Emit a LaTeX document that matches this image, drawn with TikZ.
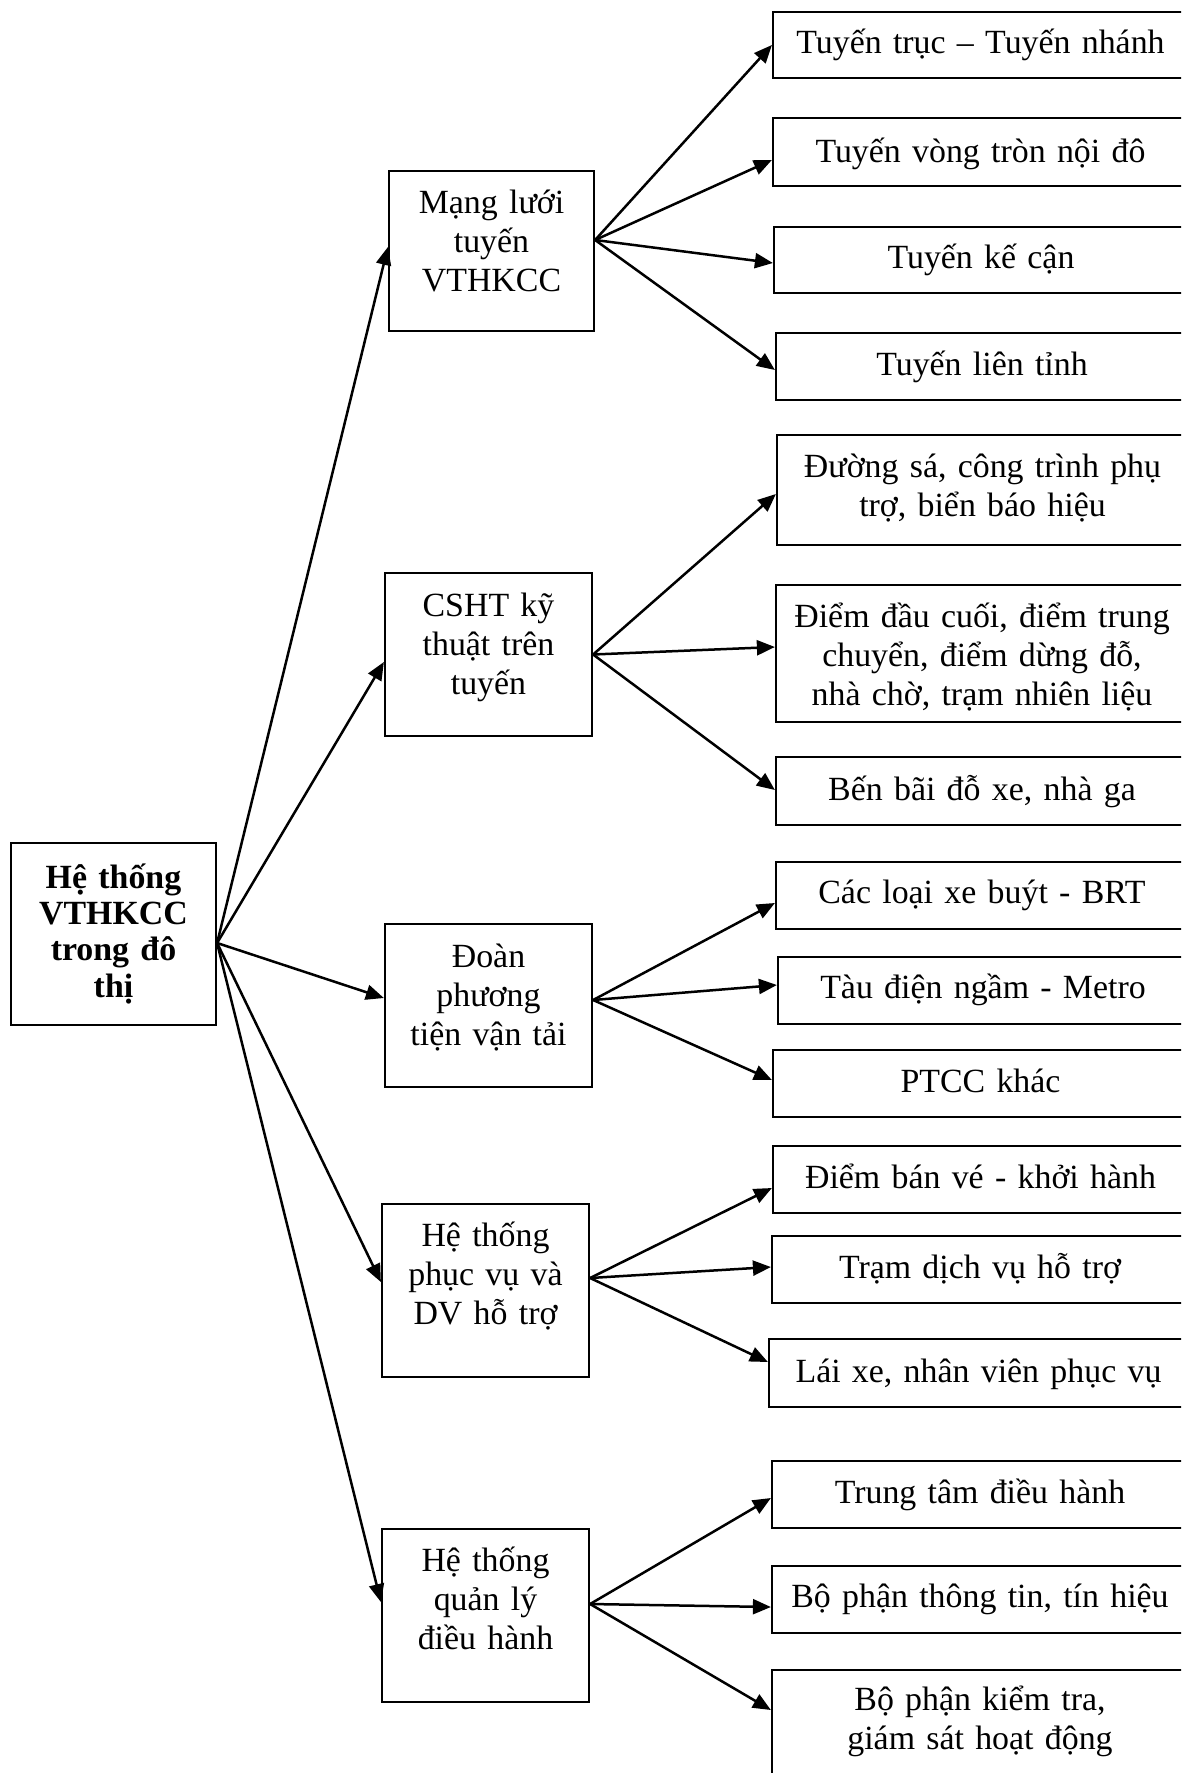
\documentclass[tikz,border=0pt]{standalone}
\usepackage{fontspec}
\setmainfont{Liberation Serif}
\usetikzlibrary{arrows.meta}

\tikzset{
  box/.style={draw=black, line width=2.2bp, rectangle, inner sep=0pt},
  lbl/.style={anchor=base, align=center, inner sep=0pt, font=\fontsize{34}{39.5}\selectfont},
  midlbl/.style={lbl, text width=200bp},
  sidelbl/.style={lbl, text width=410bp},
  rootlbl/.style={lbl, text width=200bp, font=\fontsize{34}{36.5}\selectfont\bfseries},
  link/.style={line width=2.5bp, -{Triangle[length=18bp, width=15bp]}},
}

\begin{document}
\begin{tikzpicture}[x=1bp, y=-1bp]
\useasboundingbox (0,0) rectangle (1181,1773);
\fill[white] (0,0) rectangle (1181,1773);
\clip (0,0) rectangle (1181,1773);

% root
\node[box, minimum width=205bp, minimum height=182bp] (root) at (113.5,934) {};
\node[rootlbl] (troot) at (113.5,888) {Hệ thống\\VTHKCC\\trong đô\\thị};

% middle column
\node[box, minimum width=205bp, minimum height=160bp] (m1) at (491.5,251) {};
\node[midlbl] (tm1) at (491.5,213) {Mạng lưới\\tuyến\\VTHKCC};
\node[box, minimum width=207bp, minimum height=163bp] (m2) at (488.5,654.5) {};
\node[midlbl] (tm2) at (488.5,616) {CSHT kỹ\\thuật trên\\tuyến};
\node[box, minimum width=207bp, minimum height=163bp] (m3) at (488.5,1005.5) {};
\node[midlbl] (tm3) at (488.5,967) {Đoàn\\phương\\tiện vận tải};
\node[box, minimum width=207bp, minimum height=173bp] (m4) at (485.5,1290.5) {};
\node[midlbl] (tm4) at (485.5,1246) {Hệ thống\\phục vụ và\\DV hỗ trợ};
\node[box, minimum width=207bp, minimum height=173bp] (m5) at (485.5,1615.5) {};
\node[midlbl] (tm5) at (485.5,1571) {Hệ thống\\quản lý\\điều hành};

% right column
\node[box, minimum width=415bp, minimum height=66bp] (b1) at (980.5,45) {};
\node[sidelbl] (tb1) at (980.5,53) {Tuyến trục – Tuyến nhánh};
\node[box, minimum width=415bp, minimum height=68bp] (b2) at (980.5,152) {};
\node[sidelbl] (tb2) at (980.5,162) {Tuyến vòng tròn nội đô};
\node[box, minimum width=414bp, minimum height=66bp] (b3) at (981,260) {};
\node[sidelbl] (tb3) at (981,268) {Tuyến kế cận};
\node[box, minimum width=412bp, minimum height=67bp] (b4) at (982,366.5) {};
\node[sidelbl] (tb4) at (982,375) {Tuyến liên tỉnh};

\node[box, minimum width=411bp, minimum height=110bp] (b5) at (982.5,490) {};
\node[sidelbl] (tb5) at (982.5,477) {Đường sá, công trình phụ\\trợ, biển báo hiệu};
\node[box, minimum width=412bp, minimum height=137bp] (b6) at (982,653.5) {};
\node[sidelbl] (tb6) at (982,627) {Điểm đầu cuối, điểm trung\\chuyển, điểm dừng đỗ,\\nhà chờ, trạm nhiên liệu};
\node[box, minimum width=412bp, minimum height=68bp] (b7) at (982,791) {};
\node[sidelbl] (tb7) at (982,800) {Bến bãi đỗ xe, nhà ga};

\node[box, minimum width=412bp, minimum height=67bp] (b8) at (982,895.5) {};
\node[sidelbl] (tb8) at (982,903) {Các loại xe buýt - BRT};
\node[box, minimum width=410bp, minimum height=67bp] (b9) at (983,990.5) {};
\node[sidelbl] (tb9) at (983,998) {Tàu điện ngầm - Metro};
\node[box, minimum width=415bp, minimum height=67bp] (b10) at (980.5,1083.5) {};
\node[sidelbl] (tb10) at (980.5,1092) {PTCC khác};

\node[box, minimum width=415bp, minimum height=67bp] (b11) at (980.5,1179.5) {};
\node[sidelbl] (tb11) at (980.5,1188) {Điểm bán vé - khởi hành};
\node[box, minimum width=416bp, minimum height=67bp] (b12) at (980,1269.5) {};
\node[sidelbl] (tb12) at (980,1278) {Trạm dịch vụ hỗ trợ};
\node[box, minimum width=419bp, minimum height=68bp] (b13) at (978.5,1373) {};
\node[sidelbl] (tb13) at (978.5,1382) {Lái xe, nhân viên phục vụ};

\node[box, minimum width=416bp, minimum height=67bp] (b14) at (980,1494.5) {};
\node[sidelbl] (tb14) at (980,1503) {Trung tâm điều hành};
\node[box, minimum width=416bp, minimum height=67bp] (b15) at (980,1599.5) {};
\node[sidelbl] (tb15) at (980,1607) {Bộ phận thông tin, tín hiệu};
\node[box, minimum width=416bp, minimum height=120bp] (b16) at (980,1730) {};
\node[sidelbl] (tb16) at (980,1710) {Bộ phận kiểm tra,\\giám sát hoạt động};

% root to the five groups
\draw[link] ([yshift=-9bp]root.east) -- ([yshift=4bp]m1.west);
\draw[link] ([yshift=-9bp]root.east) -- ([yshift=-7.5bp]m2.west);
\draw[link] ([yshift=-9bp]root.east) -- ([yshift=7.5bp]m3.west);
\draw[link] ([yshift=-9bp]root.east) -- ([yshift=8.5bp]m4.west);
\draw[link] ([yshift=-9bp]root.east) -- ([yshift=13.5bp]m5.west);

% groups to their items
\draw[link] ([yshift=11bp]m1.east) -- (b1.west);
\draw[link] ([yshift=11bp]m1.east) -- ([yshift=-8bp]b2.west);
\draw[link] ([yshift=11bp]m1.east) -- ([yshift=-3bp]b3.west);
\draw[link] ([yshift=11bp]m1.east) -- ([yshift=-3.5bp]b4.west);

\draw[link] (m2.east) -- ([yshift=-4bp]b5.west);
\draw[link] (m2.east) -- ([yshift=6.5bp]b6.west);
\draw[link] (m2.east) -- ([yshift=1bp]b7.west);

\draw[link] ([yshift=5.5bp]m3.east) -- ([yshift=-7.5bp]b8.west);
\draw[link] ([yshift=5.5bp]m3.east) -- ([yshift=5.5bp]b9.west);
\draw[link] ([yshift=5.5bp]m3.east) -- ([yshift=3.5bp]b10.west);

\draw[link] ([yshift=12.5bp]m4.east) -- ([yshift=-8.5bp]b11.west);
\draw[link] ([yshift=12.5bp]m4.east) -- ([yshift=2.5bp]b12.west);
\draw[link] ([yshift=12.5bp]m4.east) -- ([yshift=11bp]b13.west);

\draw[link] ([yshift=11.5bp]m5.east) -- ([yshift=-3.5bp]b14.west);
\draw[link] ([yshift=11.5bp]m5.east) -- ([yshift=-7.5bp]b15.west);
\draw[link] ([yshift=11.5bp]m5.east) -- ([yshift=20bp]b16.west);
\end{tikzpicture}
\end{document}
